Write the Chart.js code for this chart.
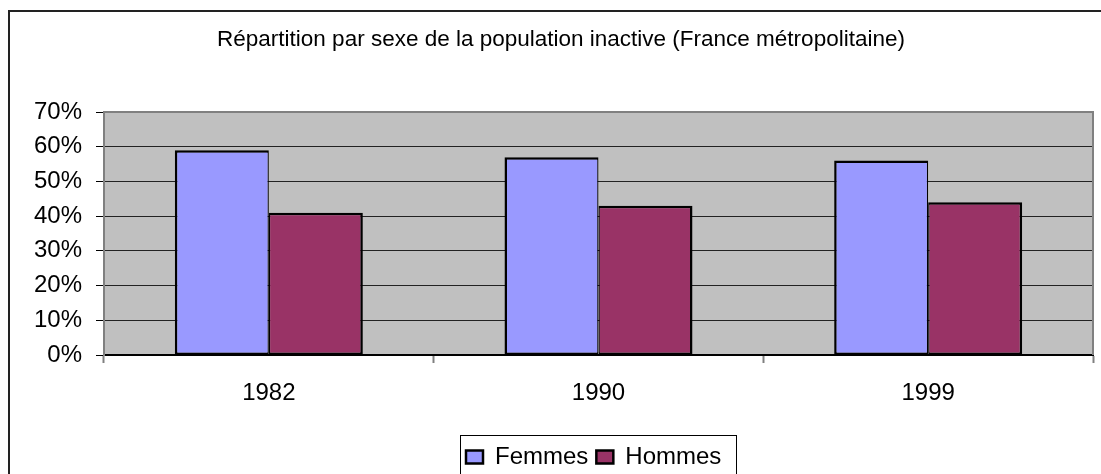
<!DOCTYPE html>
<html>
<head>
<meta charset="utf-8">
<script src="https://cdn.jsdelivr.net/npm/chart.js@4/dist/chart.umd.min.js"></script>
<style>
  html, body { margin: 0; padding: 0; background: #fff; }
  #wrap { width: 1101px; height: 474px; position: relative; }
</style>
</head>
<body>
<div id="wrap"><canvas id="c" width="1101" height="474"></canvas></div>
<script>
const titleText = 'Répartition par sexe de la population inactive (France métropolitaine)';
const categories = ['1982', '1990', '1999'];
const seriesNames = ['Femmes', 'Hommes'];
const femmes = [59, 57, 56];
const hommes = [41, 43, 44];
const yMin = 0, yMax = 70, yStep = 10;

Chart.defaults.font.family = "'Liberation Sans', Arial, sans-serif";
Chart.defaults.color = '#000';

const decorPlugin = {
  id: 'decor',
  beforeDraw(chart) {
    const ctx = chart.ctx, a = chart.chartArea;
    ctx.save();
    ctx.fillStyle = '#fff';
    ctx.fillRect(0, 0, chart.width, chart.height);
    ctx.fillStyle = '#C0C0C0';
    ctx.fillRect(a.left, a.top, a.right - a.left, a.bottom - a.top);
    // outer chart border
    ctx.strokeStyle = '#222';
    ctx.lineWidth = 2;
    ctx.beginPath();
    ctx.moveTo(9, chart.height + 5);
    ctx.lineTo(9, 11);
    ctx.lineTo(chart.width + 5, 11);
    ctx.stroke();
    ctx.restore();
  },
  afterLayout(chart) {
    const lg = chart.legend;
    if (!lg || !lg.lineWidths || !lg.lineWidths.length) return;
    const pad = lg.options.labels.padding;
    const extra = 20;
    const firstX = 466;
    lg.left = firstX - (pad + extra) / 2;
    lg.right = lg.left + lg.lineWidths[0] + extra;
    lg.top = 445 - pad;
    lg.bottom = lg.top + lg.height;
  },
  afterDatasetsDraw(chart) {
    const ctx = chart.ctx, a = chart.chartArea;
    ctx.save();
    ctx.strokeStyle = '#808080';
    ctx.lineWidth = 2;
    ctx.beginPath();
    ctx.moveTo(a.left, a.top);
    ctx.lineTo(a.right, a.top);
    ctx.lineTo(a.right, a.bottom);
    ctx.stroke();
    ctx.restore();
  },
  afterDraw(chart) {
    const ctx = chart.ctx;
    ctx.save();
    ctx.strokeStyle = '#000';
    ctx.lineWidth = 1;
    ctx.strokeRect(460.5, 435.5, 276, 60);
    ctx.restore();
  }
};

new Chart(document.getElementById('c'), {
  type: 'bar',
  data: {
    labels: categories,
    datasets: [
      { label: seriesNames[0], data: femmes, backgroundColor: '#9999FF', borderColor: '#000',
        borderWidth: { left: 2.5, top: 2.5, right: 1.3, bottom: 2 }, borderSkipped: false },
      { label: seriesNames[1], data: hommes, backgroundColor: '#993366', borderColor: '#000',
        borderWidth: { left: 1.3, top: 2.5, right: 2.5, bottom: 2 }, borderSkipped: false }
    ]
  },
  options: {
    responsive: false,
    devicePixelRatio: 1,
    animation: false,
    events: [],
    layout: { padding: { left: 29, right: 8, top: 0, bottom: 0 } },
    datasets: { bar: { categoryPercentage: 0.5703, barPercentage: 1.0 } },
    plugins: {
      title: {
        display: true,
        text: titleText,
        color: '#000',
        font: { size: 22.5, weight: 'normal', lineHeight: 1.2 },
        padding: { top: 26, bottom: 59 }
      },
      legend: {
        display: true,
        position: 'bottom',
        labels: {
          boxWidth: 17,
          boxHeight: 13,
          padding: 8,
          color: '#000',
          font: { size: 24 },
          generateLabels(chart) {
            return chart.data.datasets.map((ds, i) => ({
              text: ds.label,
              fillStyle: ds.backgroundColor,
              strokeStyle: '#000',
              lineWidth: 2.5,
              hidden: false,
              datasetIndex: i,
              fontColor: '#000'
            }));
          }
        }
      },
      tooltip: { enabled: false }
    },
    scales: {
      x: {
        afterFit(scale) {
          const lh = (scale.chart.legend && scale.chart.legend.height) || 0;
          scale.height = 119 - lh;
        },
        grid: {
          offset: true,
          drawOnChartArea: false,
          drawTicks: true,
          tickLength: 8,
          tickColor: '#808080',
          tickWidth: 2
        },
        border: { display: true, color: '#000', width: 2 },
        ticks: { padding: 16, font: { size: 24 }, color: '#000' }
      },
      y: {
        min: yMin,
        max: yMax,
        afterFit(scale) { scale.width = 75; },
        grid: {
          color: (c) => (c.tick && c.tick.value === yMax) ? 'rgba(0,0,0,0)' : '#222',
          lineWidth: 1,
          tickLength: 8,
          tickColor: '#000',
          tickWidth: 1
        },
        border: { display: true, color: '#808080', width: 2 },
        ticks: {
          stepSize: yStep,
          padding: 14,
          font: { size: 24 },
          color: '#000',
          callback: (v) => v + '%'
        }
      }
    }
  },
  plugins: [decorPlugin]
});
</script>
</body>
</html>
